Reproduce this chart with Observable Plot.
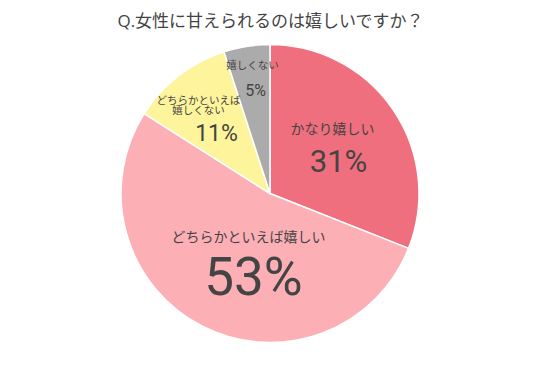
<!DOCTYPE html>
<html>
<head>
<meta charset="utf-8">
<script src="https://cdn.jsdelivr.net/npm/d3@7"></script>
<script src="https://cdn.jsdelivr.net/npm/@observablehq/plot@0.6"></script>
<style>
  html, body { margin: 0; padding: 0; background: #fff; }
  svg { display: block; }
</style>
</head>
<body>
<div id="chart"></div>
<script>
// ---- data ----
const title = "Q.女性に甘えられるのは嬉しいですか？";
const categories = ["かなり嬉しい", "どちらかといえば嬉しい", "どちらかといえば\n嬉しくない", "嬉しくない"];
const values = [31, 53, 11, 5];
const colors = ["#F06F7E", "#FCB0B6", "#FEF49C", "#ABABAB"];

// ---- layout (separate from data) ----
const R = 149;                               // pie radius in scale units
const nameOffsets = [[62, -65], [-22, 43], [-72, -88.5], [-18, -128]];
const pctOffsets  = [[68, -22], [-17, 101], [-54, -53], [-15, -98]];
const nameSizes = [14, 14, 10.5, 10.5];
const pctSizes  = [31, 53, 23, 16];

const rows = categories.map((c, i) => ({
  name: c, value: values[i], color: colors[i],
  nx: nameOffsets[i][0], ny: nameOffsets[i][1],
  px: pctOffsets[i][0], py: pctOffsets[i][1],
  ns: nameSizes[i], ps: pctSizes[i]
}));

const font = "'Open Sans', 'Noto Sans CJK JP', sans-serif";
const numFont = "Roboto, 'Open Sans', sans-serif";

function pieMark(data) {
  return (index, scales) => {
    const x0 = scales.x(0), y0 = scales.y(0);
    const rpx = scales.x(R) - x0;
    const arcs = d3.pie().sort(null).value(d => d.value)(data);
    const arc = d3.arc().innerRadius(0).outerRadius(rpx);
    const g = d3.create("svg:g").attr("transform", `translate(${x0},${y0})`);
    g.selectAll("path").data(arcs).join("path")
      .attr("d", arc)
      .attr("fill", d => d.data.color)
      .attr("stroke", "#fff")
      .attr("stroke-width", 1.5)
      .attr("stroke-linejoin", "round");
    return g.node();
  };
}

const marks = [pieMark(rows)];
rows.forEach(r => {
  marks.push(Plot.text([r], {
    x: "nx", y: "ny", text: "name", fontSize: r.ns, fill: "#444",
    lineHeight: 1.02, fontFamily: font
  }));
  marks.push(Plot.text([r], {
    x: "px", y: "py", text: d => d.value + "%", fontSize: r.ps, fill: "#444",
    fontFamily: numFont, lineAnchor: "bottom"
  }));
});
marks.push(Plot.text([title], {
  x: () => 0, y: () => -172, text: d => d, fontSize: 17, fill: "#444", fontFamily: font
}));

const chart = Plot.plot({
  width: 540, height: 385,
  margin: 0,
  x: {domain: [-270, 270], range: [0, 540], axis: null},
  y: {domain: [-193.5, 191.5], range: [0, 385], axis: null},
  style: {background: "#fff", fontFamily: font},
  marks
});
document.getElementById("chart").appendChild(chart);
</script>
</body>
</html>
